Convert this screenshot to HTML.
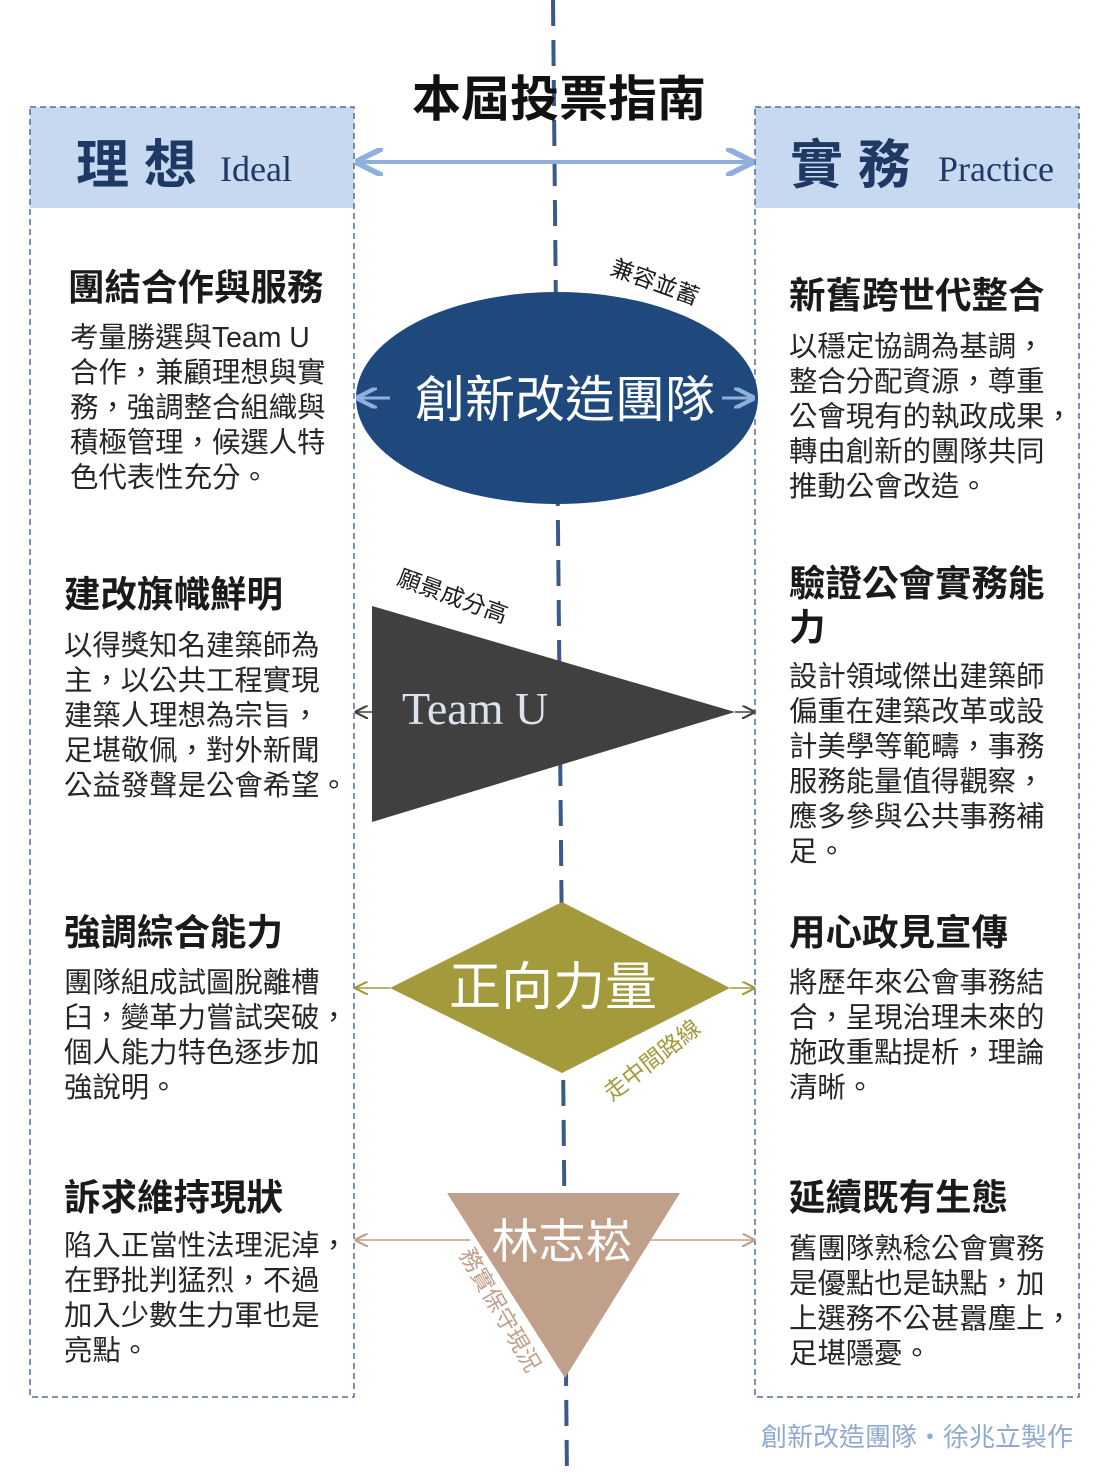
<!DOCTYPE html>
<html><head><meta charset="utf-8"><style>
html,body{margin:0;padding:0;background:#fff;}
svg{display:block;font-family:"Liberation Sans","Noto Sans CJK TC",sans-serif;}
.h{font-size:36.5px;font-weight:bold;fill:#1a1a1a;}
.b{font-size:28.4px;fill:#262626;}
</style></head><body>
<svg width="1108" height="1478" viewBox="0 0 1108 1478" xmlns="http://www.w3.org/2000/svg">
<defs>
<marker id="mb" viewBox="0 0 10 10" refX="9" refY="5" markerWidth="7" markerHeight="7" orient="auto-start-reverse"><path d="M0,0 L10,5 L0,10" fill="none" stroke="#8fb0dc" stroke-width="2"/></marker>
<marker id="mg" viewBox="0 0 10 10" refX="9" refY="5" markerWidth="9" markerHeight="9" orient="auto-start-reverse"><path d="M0,0 L10,5 L0,10" fill="none" stroke="#404040" stroke-width="1.6"/></marker>
<marker id="mo" viewBox="0 0 10 10" refX="9" refY="5" markerWidth="9" markerHeight="9" orient="auto-start-reverse"><path d="M0,0 L10,5 L0,10" fill="none" stroke="#a39a3c" stroke-width="1.6"/></marker>
<marker id="mp" viewBox="0 0 10 10" refX="9" refY="5" markerWidth="9" markerHeight="9" orient="auto-start-reverse"><path d="M0,0 L10,5 L0,10" fill="none" stroke="#c0a08a" stroke-width="1.6"/></marker>
</defs>
<line x1="553" y1="0" x2="567" y2="1478" stroke="#3a5a8c" stroke-width="4" stroke-dasharray="26,14"/>
<rect x="30" y="107" width="324" height="101" fill="#c6d9f1"/>
<rect x="755" y="107" width="324" height="101" fill="#c6d9f1"/>
<rect x="30" y="107" width="324" height="1290" fill="none" stroke="#4f6fa0" stroke-width="1.5" stroke-dasharray="6,4"/>
<rect x="755" y="107" width="324" height="1290" fill="none" stroke="#4f6fa0" stroke-width="1.5" stroke-dasharray="6,4"/>
<text x="559" y="116" text-anchor="middle" font-size="49" font-weight="bold" fill="#111">本屆投票指南</text>
<text x="76" y="183" font-size="53" font-weight="bold" fill="#1f3864">理 想</text>
<text x="220" y="181" font-size="36" fill="#1f3864" font-family="Liberation Serif,serif">Ideal</text>
<text x="790" y="183" font-size="53" font-weight="bold" fill="#1f3864">實 務</text>
<text x="938" y="181" font-size="36" fill="#1f3864" font-family="Liberation Serif,serif">Practice</text>
<line x1="358" y1="162" x2="751" y2="162" stroke="#8fb0dc" stroke-width="4" marker-start="url(#mb)" marker-end="url(#mb)"/>
<ellipse cx="557" cy="398" rx="201" ry="106" fill="#1f497d"/>
<line x1="390" y1="398" x2="358" y2="398" stroke="#8fb0dc" stroke-width="3" marker-end="url(#mb)"/>
<line x1="722" y1="398" x2="753" y2="398" stroke="#8fb0dc" stroke-width="3" marker-end="url(#mb)"/>
<text x="565" y="417" text-anchor="middle" font-size="50" fill="#fff">創新改造團隊</text>
<text x="655" y="290" text-anchor="middle" font-size="23" fill="#1a1a1a" transform="rotate(20 655 282)">兼容並蓄</text>
<polygon points="372,606 372,822 735,712" fill="#404040"/>
<line x1="372" y1="712" x2="356" y2="712" stroke="#404040" stroke-width="1.5" marker-end="url(#mg)"/>
<line x1="735" y1="712" x2="754" y2="712" stroke="#404040" stroke-width="1.5" marker-end="url(#mg)"/>
<text x="402" y="724" font-size="46" fill="#dde3ee" font-family="Liberation Serif,serif">Team U</text>
<text x="452" y="604" text-anchor="middle" font-size="23" fill="#1a1a1a" transform="rotate(20 452 598)">願景成分高</text>
<polygon points="562,902 730,988 562,1073 390,988" fill="#a39a3c"/>
<line x1="390" y1="988" x2="356" y2="988" stroke="#a39a3c" stroke-width="1.5" marker-end="url(#mo)"/>
<line x1="730" y1="988" x2="754" y2="988" stroke="#a39a3c" stroke-width="1.5" marker-end="url(#mo)"/>
<text x="553" y="1005" text-anchor="middle" font-size="52" fill="#fff">正向力量</text>
<text x="652" y="1068" text-anchor="middle" font-size="23" fill="#a39a3c" transform="rotate(-38 652 1060)">走中間路線</text>
<polygon points="447,1193 680,1193 565,1378" fill="#c0a08a"/>
<line x1="470" y1="1240" x2="356" y2="1240" stroke="#c0a08a" stroke-width="1.5" marker-end="url(#mp)"/>
<line x1="650" y1="1240" x2="754" y2="1240" stroke="#c0a08a" stroke-width="1.5" marker-end="url(#mp)"/>
<text x="562" y="1258" text-anchor="middle" font-size="47" fill="#fff">林志崧</text>
<text x="500" y="1318" text-anchor="middle" font-size="23" fill="#c0a08a" transform="rotate(60 500 1310)">務實保守現況</text>

<text class="h" x="68" y="300">團結合作與服務</text>
<text class="b" x="70" y="347">考量勝選與Team U</text>
<text class="b" x="70" y="382">合作，兼顧理想與實</text>
<text class="b" x="70" y="417">務，強調整合組織與</text>
<text class="b" x="70" y="452">積極管理，候選人特</text>
<text class="b" x="70" y="487">色代表性充分。</text>

<text class="h" x="64" y="607">建改旗幟鮮明</text>
<text class="b" x="64" y="655">以得獎知名建築師為</text>
<text class="b" x="64" y="690">主，以公共工程實現</text>
<text class="b" x="64" y="725">建築人理想為宗旨，</text>
<text class="b" x="64" y="760">足堪敬佩，對外新聞</text>
<text class="b" x="64" y="795">公益發聲是公會希望。</text>

<text class="h" x="64" y="945">強調綜合能力</text>
<text class="b" x="64" y="992">團隊組成試圖脫離槽</text>
<text class="b" x="64" y="1027">臼，變革力嘗試突破，</text>
<text class="b" x="64" y="1062">個人能力特色逐步加</text>
<text class="b" x="64" y="1097">強說明。</text>

<text class="h" x="64" y="1210">訴求維持現狀</text>
<text class="b" x="64" y="1255">陷入正當性法理泥淖，</text>
<text class="b" x="64" y="1290">在野批判猛烈，不過</text>
<text class="b" x="64" y="1325">加入少數生力軍也是</text>
<text class="b" x="64" y="1360">亮點。</text>

<text class="h" x="789" y="308">新舊跨世代整合</text>
<text class="b" x="789" y="356">以穩定協調為基調，</text>
<text class="b" x="789" y="391">整合分配資源，尊重</text>
<text class="b" x="789" y="426">公會現有的執政成果，</text>
<text class="b" x="789" y="461">轉由創新的團隊共同</text>
<text class="b" x="789" y="496">推動公會改造。</text>

<text class="h" x="789" y="596">驗證公會實務能</text>
<text class="h" x="789" y="640">力</text>
<text class="b" x="789" y="686">設計領域傑出建築師</text>
<text class="b" x="789" y="721">偏重在建築改革或設</text>
<text class="b" x="789" y="756">計美學等範疇，事務</text>
<text class="b" x="789" y="791">服務能量值得觀察，</text>
<text class="b" x="789" y="826">應多參與公共事務補</text>
<text class="b" x="789" y="861">足。</text>

<text class="h" x="789" y="945">用心政見宣傳</text>
<text class="b" x="789" y="992">將歷年來公會事務結</text>
<text class="b" x="789" y="1027">合，呈現治理未來的</text>
<text class="b" x="789" y="1062">施政重點提析，理論</text>
<text class="b" x="789" y="1097">清晰。</text>

<text class="h" x="789" y="1210">延續既有生態</text>
<text class="b" x="789" y="1258">舊團隊熟稔公會實務</text>
<text class="b" x="789" y="1293">是優點也是缺點，加</text>
<text class="b" x="789" y="1328">上選務不公甚囂塵上，</text>
<text class="b" x="789" y="1363">足堪隱憂。</text>

<text x="1073" y="1446" text-anchor="end" font-size="26" fill="#8fa9d0">創新改造團隊・徐兆立製作</text>
</svg>
</body></html>
